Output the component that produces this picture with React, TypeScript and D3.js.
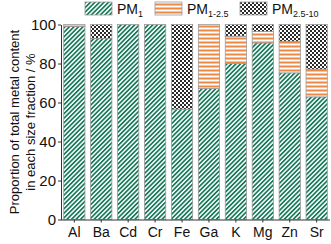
import { useEffect, useRef } from 'react';
import * as d3 from 'd3';

const metals = ['Al', 'Ba', 'Cd', 'Cr', 'Fe', 'Ga', 'K', 'Mg', 'Zn', 'Sr'];
const pm1 = [99, 92.8, 100, 100, 56.6, 67.2, 80, 90.6, 75.2, 62.9];
const pm1to25 = [1, 0, 0, 0, 0, 32.8, 14, 5.8, 16.2, 14.2];
const pm25to10 = [0, 7.2, 0, 0, 43.4, 0, 6, 3.6, 8.6, 22.9];
const yTicks = [0, 20, 40, 60, 80, 100];
const seriesNames = ['PM1', 'PM1-2.5', 'PM2.5-10'];

const App = () => {
  const svgRef = useRef<SVGSVGElement>(null);

  useEffect(() => {
    const svg = d3.select(svgRef.current);
    svg.selectAll('*').remove();

    const width = 331;
    const height = 244;
    const marginLeft = 61;
    const marginRight = 1;
    const marginTop = 24.5;
    const marginBottom = 24.5;
    const font = 'Arial, "Liberation Sans", sans-serif';

    // patterns
    const defs = svg.append('defs');
    const p1 = defs.append('pattern')
      .attr('id', 'pm1').attr('patternUnits', 'userSpaceOnUse')
      .attr('width', 3.2).attr('height', 3.2)
      .attr('patternTransform', 'rotate(45)');
    p1.append('rect').attr('width', 3.2).attr('height', 3.2).attr('fill', '#fff');
    p1.append('rect').attr('width', 1.7).attr('height', 3.2).attr('fill', '#16795a');

    const p2 = defs.append('pattern')
      .attr('id', 'pm2').attr('patternUnits', 'userSpaceOnUse')
      .attr('width', 4).attr('height', 4);
    p2.append('rect').attr('width', 4).attr('height', 4).attr('fill', '#fff');
    p2.append('rect').attr('y', 1.5).attr('width', 4).attr('height', 2).attr('fill', '#ec8a45');

    const p3 = defs.append('pattern')
      .attr('id', 'pm3').attr('patternUnits', 'userSpaceOnUse')
      .attr('width', 4).attr('height', 4);
    p3.append('rect').attr('width', 4).attr('height', 4).attr('fill', '#fff');
    p3.append('rect').attr('width', 2).attr('height', 2).attr('fill', '#2a2a2a');
    p3.append('rect').attr('x', 2).attr('y', 2).attr('width', 2).attr('height', 2).attr('fill', '#2a2a2a');

    const fills = ['url(#pm1)', 'url(#pm2)', 'url(#pm3)'];

    const x = d3.scaleBand()
      .domain(metals)
      .range([marginLeft, width - marginRight])
      .paddingInner(0.21)
      .paddingOuter(0.1);

    const y = d3.scaleLinear()
      .domain([0, 100])
      .range([height - marginBottom, marginTop]);

    const table = metals.map((m, i) => ({ metal: m, a: pm1[i], b: pm1to25[i], c: pm25to10[i] }));
    const stack = d3.stack<any>().keys(['a', 'b', 'c'])(table);

    svg.append('g')
      .selectAll('g')
      .data(stack)
      .join('g')
      .attr('fill', (_, i) => fills[i])
      .selectAll('rect')
      .data(d => d.filter(s => s[1] - s[0] > 0))
      .join('rect')
      .attr('x', d => x(d.data.metal)!)
      .attr('y', d => y(d[1]))
      .attr('width', x.bandwidth())
      .attr('height', d => y(d[0]) - y(d[1]))
      .attr('stroke', '#9a9a9a')
      .attr('stroke-width', 0.8);

    // axes
    const yAxis = svg.append('g')
      .attr('transform', `translate(${marginLeft},0)`)
      .call(d3.axisLeft(y).tickValues(yTicks).tickSize(3).tickPadding(2).tickSizeOuter(0));
    yAxis.select('.domain').attr('stroke', '#333');
    yAxis.selectAll('.tick line').attr('stroke', '#333');
    yAxis.selectAll('text').attr('font-size', 15).attr('font-family', font).attr('fill', '#111');

    const xAxis = svg.append('g')
      .attr('transform', `translate(0,${height - marginBottom})`)
      .call(d3.axisBottom(x).tickSize(3).tickPadding(5).tickSizeOuter(0));
    xAxis.select('.domain').attr('stroke', '#333').attr('d', `M${marginLeft},0.5H${width - marginRight}`);
    xAxis.selectAll('.tick line').attr('stroke', '#333');
    xAxis.selectAll('text').attr('font-size', 14).attr('font-family', font).attr('fill', '#111');

    // y title
    const title = svg.append('text')
      .attr('transform', `translate(19,${(marginTop + height - marginBottom) / 2}) rotate(-90)`)
      .attr('text-anchor', 'middle')
      .attr('font-size', 13)
      .attr('font-family', font)
      .attr('fill', '#111');
    title.append('tspan').attr('x', 0).attr('dy', 0).text('Proportion of total metal content');
    title.append('tspan').attr('x', 0).attr('dy', 16).text('in each size fraction / %');

    // legend
    const legendX = [85, 155, 240];
    const leg = svg.append('g');
    seriesNames.forEach((name, i) => {
      const g = leg.append('g').attr('transform', `translate(${legendX[i]},2)`);
      g.append('rect').attr('width', 27).attr('height', 13)
        .attr('fill', fills[i]).attr('stroke', '#9a9a9a').attr('stroke-width', 0.8);
      const t = g.append('text').attr('x', 32).attr('y', 12)
        .attr('font-size', 14).attr('font-family', font).attr('fill', '#111');
      const base = name.slice(0, 2);
      const sub = name.slice(2);
      t.append('tspan').text(base);
      t.append('tspan').attr('font-size', 9).attr('dy', 3).text(sub);
    });
  }, []);

  return (
    <div style={{ position: 'absolute', left: 0, top: 0 }}>
      <svg ref={svgRef} width={331} height={244} style={{ display: 'block' }} />
    </div>
  );
};

export default App;
